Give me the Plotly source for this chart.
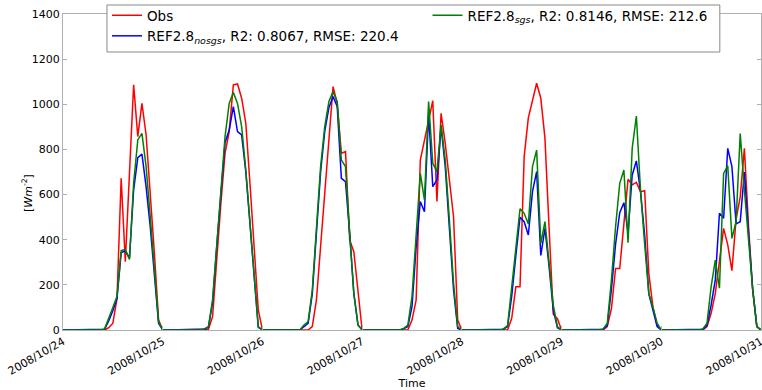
import pandas as pd
import plotly.graph_objects as go

# hourly values, hours 00..23 of each day
obs_d0 = [0]*10 + [0, 10, 30, 140, 672, 303, 700, 1086, 857, 1004, 864, 620, 340, 45]
obs_d1 = [0]*10 + [0, 3, 59, 325, 561, 783, 879, 1086, 1090, 1027, 916, 650, 369, 89]
obs_d2 = [0]*10 + [0, 0, 15, 133, 370, 605, 865, 1078, 1004, 783, 790, 399, 347, 160]
obs_d3 = [0]*10 + [0, 0, 44, 133, 753, 842, 930, 1016, 569, 960, 827, 665, 502, 44]
obs_d4 = [0]*10 + [0, 0, 52, 192, 192, 768, 940, 1015, 1093, 1027, 850, 450, 70, 50]
obs_d5 = [0]*10 + [0, 15, 95, 273, 273, 470, 668, 643, 654, 613, 617, 250, 100, 20]
obs_d6 = [0]*10 + [0, 15, 74, 162, 295, 450, 377, 263, 490, 590, 805, 458, 177, 15]

nosgs_d0 = [0]*10 + [3, 40, 85, 140, 343, 350, 320, 620, 764, 779, 635, 458, 251, 30]
nosgs_d1 = [0]*10 + [3, 12, 120, 370, 610, 830, 886, 990, 879, 864, 700, 480, 230, 12]
nosgs_d2 = [0]*10 + [15, 30, 160, 440, 700, 880, 985, 1034, 990, 672, 657, 428, 162, 22]
nosgs_d3 = [0]*10 + [5, 15, 103, 369, 569, 524, 960, 635, 665, 901, 724, 458, 177, 7]
nosgs_d4 = [0]*10 + [3, 15, 150, 330, 500, 480, 421, 613, 702, 330, 450, 280, 90, 10]
nosgs_d5 = [0]*10 + [3, 20, 180, 380, 520, 564, 430, 687, 749, 613, 420, 160, 80, 15]
nosgs_d6 = [0]*10 + [3, 20, 111, 222, 517, 495, 805, 724, 470, 480, 700, 430, 180, 15]

sgs_d0 = [0]*10 + [5, 50, 100, 150, 352, 357, 313, 650, 842, 871, 724, 502, 281, 37]
sgs_d1 = [0]*10 + [5, 15, 133, 384, 620, 857, 1004, 1052, 1004, 901, 709, 487, 236, 15]
sgs_d2 = [0]*10 + [22, 37, 177, 458, 724, 901, 1012, 1056, 1012, 753, 724, 428, 162, 22]
sgs_d3 = [0]*10 + [7, 22, 148, 399, 694, 576, 1012, 739, 702, 908, 753, 487, 207, 15]
sgs_d4 = [0]*10 + [5, 20, 190, 360, 537, 517, 470, 724, 797, 384, 480, 295, 110, 15]
sgs_d5 = [0]*10 + [5, 30, 221, 458, 650, 709, 387, 805, 948, 620, 380, 162, 100, 30]
sgs_d6 = [0]*10 + [5, 30, 192, 310, 185, 694, 727, 406, 480, 870, 620, 400, 180, 15]
last_value = [0]

obs = obs_d0 + obs_d1 + obs_d2 + obs_d3 + obs_d4 + obs_d5 + obs_d6 + last_value
nosgs = nosgs_d0 + nosgs_d1 + nosgs_d2 + nosgs_d3 + nosgs_d4 + nosgs_d5 + nosgs_d6 + last_value
sgs = sgs_d0 + sgs_d1 + sgs_d2 + sgs_d3 + sgs_d4 + sgs_d5 + sgs_d6 + last_value

times = pd.date_range("2008-10-24", periods=len(obs), freq="h")

names = ["Obs",
         "REF2.8<sub><i>nosgs</i></sub>, R2: 0.8067, RMSE: 220.4",
         "REF2.8<sub><i>sgs</i></sub>, R2: 0.8146, RMSE: 212.6"]
colors = ["#ff0000", "#0000ff", "#008000"]
legend_cols = ["legend", "legend", "legend2"]

fig = go.Figure()
for y, n, c, lg in zip([obs, nosgs, sgs], names, colors, legend_cols):
    fig.add_trace(go.Scatter(x=times, y=y, mode="lines", name=n,
                             line=dict(color=c, width=1.5), legend=lg))

axcol = "#b0b0b0"
leg_common = dict(orientation="v", y=1.0443, yanchor="top", xanchor="left",
                  bgcolor="rgba(0,0,0,0)", borderwidth=0, tracegroupgap=0,
                  font=dict(size=13.5, family="DejaVu Sans"))
fig.update_layout(
    width=762, height=390,
    margin=dict(l=63, r=1, t=14, b=60, autoexpand=False),
    paper_bgcolor="white", plot_bgcolor="white",
    font=dict(family="DejaVu Sans", size=11, color="#000000"),
    legend=dict(x=0.063, **leg_common),
    legend2=dict(x=0.5222, **leg_common),
    shapes=[dict(type="rect", xref="paper", yref="paper",
                 x0=0.063, x1=0.941, y0=0.8797, y1=1.0285,
                 fillcolor="white", line=dict(color="#888888", width=1), layer="above")],
    annotations=[dict(text="[<i>Wm</i><sup>-2</sup>]", textangle=-90, showarrow=False,
                      xref="paper", yref="paper", x=-0.0516, y=0.4335,
                      xanchor="center", yanchor="middle", font=dict(size=11))],
    xaxis=dict(type="date", range=["2008-10-24", "2008-10-31"],
               tick0="2008-10-24", dtick=86400000, tickformat="%Y/%m/%d",
               tickangle=-30, ticks="inside", ticklen=4, tickcolor=axcol,
               ticklabeloverflow="allow",
               showline=True, linecolor=axcol, linewidth=1, mirror="ticks",
               showgrid=False, zeroline=False, automargin=False,
               title=dict(text="Time", font=dict(size=11), standoff=4)),
    yaxis=dict(range=[0, 1400], dtick=200, ticks="inside", ticklen=4, tickcolor=axcol,
               showline=True, linecolor=axcol, linewidth=1, mirror="ticks",
               showgrid=False, zeroline=False, automargin=False),
)

# page without the browser's default body margin, so the 762x390 figure fills the window
fig.write_html("out.html", config={"displayModeBar": False},
               post_script="document.body.style.margin='0';document.body.style.overflow='hidden';")
